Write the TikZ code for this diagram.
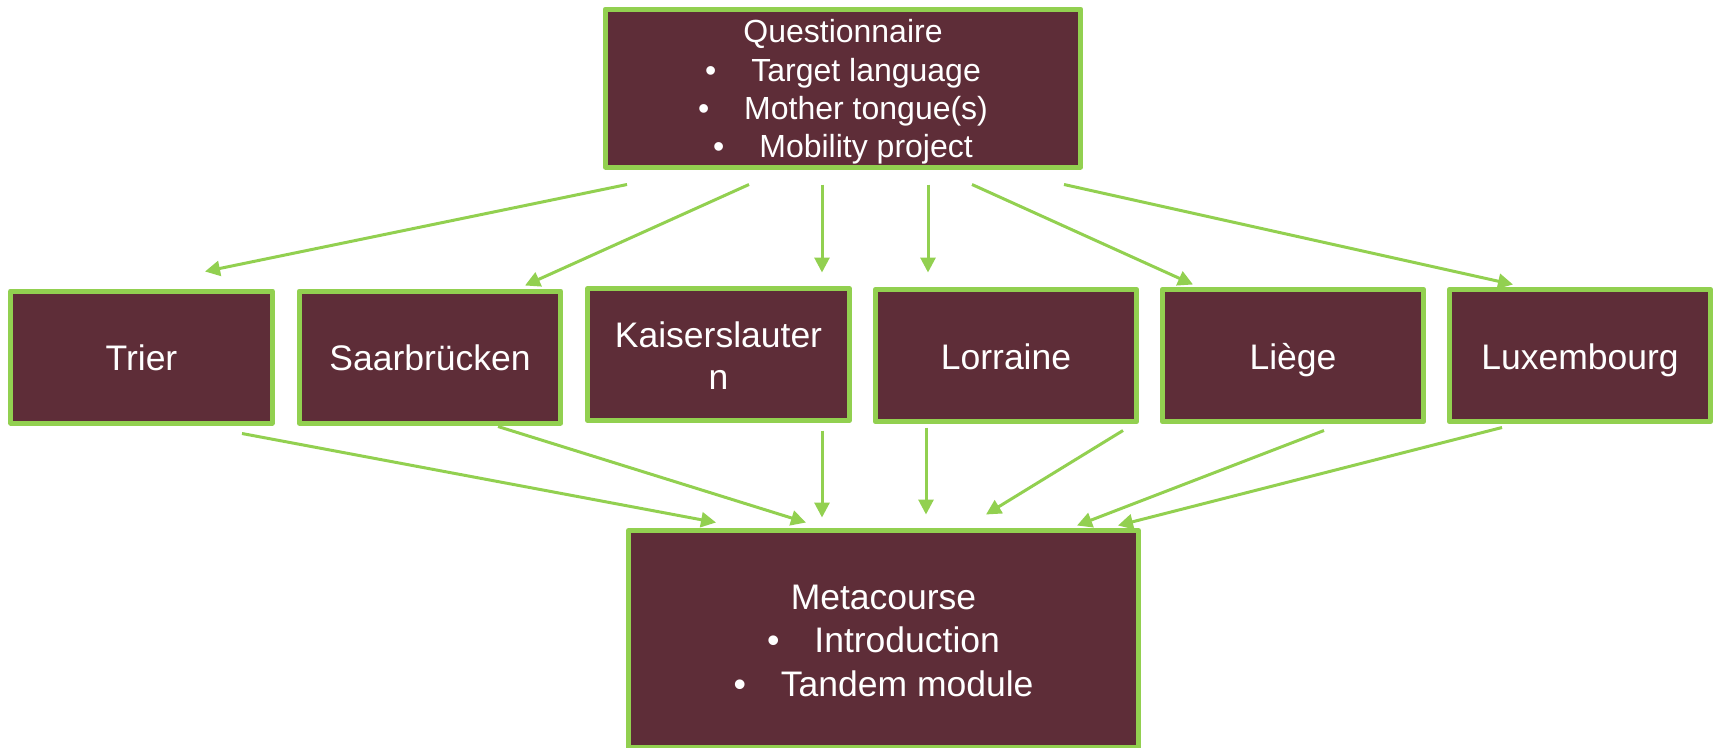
\documentclass[tikz,border=0pt]{standalone}
\usepackage{fontspec}
\setmainfont{Liberation Sans}
\usetikzlibrary{arrows.meta}
\definecolor{boxfill}{HTML}{5E2D38}
\definecolor{boxline}{HTML}{92D050}
\newcommand\txtline[1]{\rule[-0.2em]{0pt}{1.17em}\raisebox{0pt}[0pt][0pt]{#1}}
\newcommand\bul{\textbullet\hspace{35pt}}
\begin{document}
\begin{tikzpicture}[x=1pt,y=-1pt,
  box/.style={draw=boxline, line width=5pt, fill=boxfill, text=white, line join=round, inner sep=0pt, align=center},
  city/.style={box, minimum width=261.5pt, minimum height=132pt, font=\fontsize{35.5pt}{42pt}\selectfont},
  arr/.style={draw=boxline, line width=3pt, -{Triangle[length=15pt,width=15pt]}}]
\useasboundingbox (0,0) rectangle (1715,747);
\node[box, minimum width=475.5pt, minimum height=158pt, font=\fontsize{32pt}{38.4pt}\selectfont] (quest) at (843,88)
  {\txtline{Questionnaire}\\\txtline{\bul Target language}\\\txtline{\bul Mother tongue(s)}\\\txtline{\bul Mobility project}};
\node[city] (trier) at (141.5,357) {\txtline{Trier}};
\node[city] (saar) at (430,357) {\txtline{Saarbrücken}};
\node[city] (kaiser) at (718.5,354.5) {\txtline{Kaiserslauter}\\\txtline{n}};
\node[city] (lorraine) at (1006,355.5) {\txtline{Lorraine}};
\node[city] (liege) at (1293,355.5) {\txtline{Liège}};
\node[city] (lux) at (1580,355.5) {\txtline{Luxembourg}};
\node[box, minimum width=510pt, minimum height=217pt, font=\fontsize{35.5pt}{43.5pt}\selectfont] (meta) at (883.5,639)
  {\txtline{Metacourse}\\\txtline{\bul Introduction}\\\txtline{\bul Tandem module}};
% top arrows
\draw[arr] ([shift={(-216,15)}]quest.south) -- ([shift={(63.5,-17)}]trier.north);
\draw[arr] ([shift={(-94,15)}]quest.south) -- ([shift={(95,-3)}]saar.north);
\draw[arr] ([shift={(-21,15)}]quest.south) -- ([shift={(103.5,-13.5)}]kaiser.north);
\draw[arr] ([shift={(85,15)}]quest.south) -- ([shift={(-78,-14.5)}]lorraine.north);
\draw[arr] ([shift={(129,15)}]quest.south) -- ([shift={(-100,-2.5)}]liege.north);
\draw[arr] ([shift={(221,15)}]quest.south) -- ([shift={(-67,-2.5)}]lux.north);
% bottom arrows
\draw[arr] ([shift={(100.5,8)}]trier.south) -- ([shift={(-167.5,-5.5)}]meta.north);
\draw[arr] ([shift={(68,1)}]saar.south) -- ([shift={(-77.5,-5.5)}]meta.north);
\draw[arr] ([shift={(103.5,7.5)}]kaiser.south) -- ([shift={(-61.5,-10.5)}]meta.north);
\draw[arr] ([shift={(-80,3.5)}]lorraine.south) -- ([shift={(42.5,-13.5)}]meta.north);
\draw[arr] ([shift={(117,6.5)}]lorraine.south) -- ([shift={(102.5,-13.5)}]meta.north);
\draw[arr] ([shift={(31,6.5)}]liege.south) -- ([shift={(193.5,-2.5)}]meta.north);
\draw[arr] ([shift={(-78,3.5)}]lux.south) -- ([shift={(234.5,-2.5)}]meta.north);
\end{tikzpicture}
\end{document}
